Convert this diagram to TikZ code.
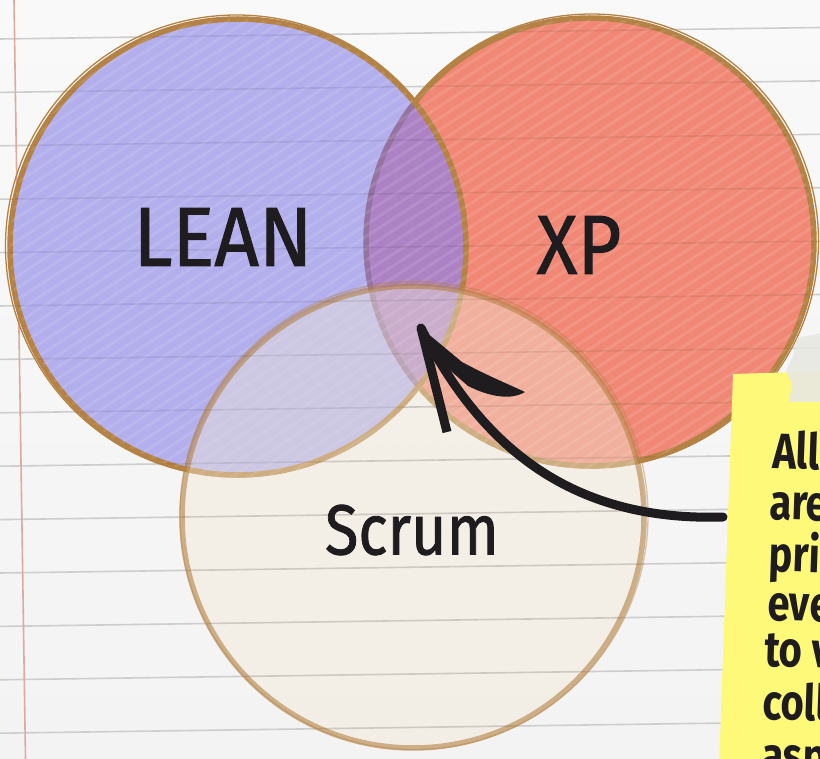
\documentclass[tikz,border=0pt]{standalone}
\usepackage{fontspec}
\setmainfont{Fira Sans}
\newfontfamily\lblfont{Fira Sans}[FakeBold=1.2]
\definecolor{paperA}{RGB}{249,249,249}
\definecolor{paperB}{RGB}{243,243,243}
\definecolor{ruleline}{RGB}{205,205,205}
\definecolor{marginline}{RGB}{222,170,160}
\definecolor{leanfill}{RGB}{178,175,236}
\definecolor{xpfill}{RGB}{241,136,117}
\definecolor{overlapLX}{RGB}{172,130,196}
\definecolor{scrumfill}{RGB}{242,233,214}
\definecolor{rimbrown}{RGB}{180,130,68}
\definecolor{rimmuted}{RGB}{148,115,160}
\definecolor{notey}{RGB}{255,249,122}
\definecolor{tapegray}{RGB}{232,232,226}
\definecolor{ink}{RGB}{30,28,30}
\begin{document}
\begin{tikzpicture}[x=1pt,y=-1pt,
  rim/.style={draw=rimbrown,line width=5.5},
  thinrim/.style={draw=rimbrown,line width=1.3},
  biglabel/.style={text=ink,inner sep=0pt},
  notetext/.style={text=ink,inner sep=0pt,anchor=base west,rotate=-2,
    font=\bfseries\fontsize{50}{50}\selectfont},
  inkline/.style={draw=ink,line width=9}]
\clip (0,0) rectangle (820,759);
% paper
\shade[top color=paperA,bottom color=paperB] (0,0) rectangle (820,759);
\foreach \k in {-1,...,14}
  \draw[ruleline,line width=1.6] (0,39+53.4*\k) -- (820,27.5+53.4*\k);
\draw[marginline,line width=1.6] (14,0) -- (25.5,759);
% circle centres
\coordinate (xpc) at (590,242);
\coordinate (leanc) at (238,247);
\coordinate (scrumc) at (413,517);
% XP
\fill[xpfill] (xpc) circle[radius=224];
\draw[rim] (xpc) circle[radius=224];
\draw[thinrim] ([shift={(1.5,-1)}]xpc) circle[radius=227];
% LEAN
\fill[leanfill] (leanc) circle[radius=228];
\begin{scope}
  \clip (leanc) circle[radius=228];
  \fill[overlapLX] (xpc) circle[radius=224];
  \draw[rimmuted,line width=5.5] (xpc) circle[radius=224];
\end{scope}
\draw[rim] (leanc) circle[radius=228];
\draw[thinrim] ([shift={(-1.5,-1)}]leanc) circle[radius=231];
% streaks
\begin{scope}
  \clip (xpc) circle[radius=224] (leanc) circle[radius=228] (scrumc) circle[radius=231];
  \foreach \s in {-1100,-1082,...,820}
    \draw[white,opacity=.10,line width=3] (\s,770) -- ++(1150,-750);
\end{scope}
% Scrum
\fill[scrumfill,fill opacity=.42] (scrumc) circle[radius=231];
\draw[rimbrown,draw opacity=.6,line width=5.5] (scrumc) circle[radius=231];
\draw[rimbrown,draw opacity=.45,line width=1.3] ([shift={(1,-1.5)}]scrumc) circle[radius=234];
% faint rules over circles
\begin{scope}
  \clip (xpc) circle[radius=224] (leanc) circle[radius=228] (scrumc) circle[radius=231];
  \foreach \k in {-1,...,14}
    \draw[black,opacity=.07,line width=1.6] (0,39+53.4*\k) -- (820,27.5+53.4*\k);
\end{scope}
% labels
\node[biglabel,font=\lblfont\fontsize{84}{84}\selectfont] (lean) at (223,237) {\scalebox{0.93}[1]{LEAN}};
\node[biglabel,font=\lblfont\fontsize{84}{84}\selectfont] (xp) at (579,245) {\scalebox{0.9}[1]{XP}};
\node[biglabel,font=\lblfont\fontsize{71}{71}\selectfont] (scrum) at (412,530) {\scalebox{0.86}[1]{Scrum}};
% arrow
\coordinate (arrowtip) at (421,328);
\coordinate (arrowtail) at (723,517);
\coordinate (barbend) at (447,432);
\draw[inkline,line cap=round] (arrowtail) .. controls (565,522) and (478,440) .. (arrowtip);
\draw[inkline,line cap=butt] (arrowtip) -- (barbend);
\fill[ink] (arrowtip) -- (462,362) .. controls (488,376) and (508,384) .. (525,392)
  .. controls (510,401) and (488,396) .. (468,386) -- (436,358) -- cycle;
% sticky note
\fill[notey] (733,374) -- (830,371) -- (830,770) -- (719,770) -- cycle;
\fill[tapegray,opacity=.9] (797,338) -- (822,333) -- (822,402) -- (789,402) -- (792,384)
  -- (786,371) -- (793,356) -- cycle;
\node[notetext] (n1) at (772,468) {\scalebox{0.8}[1]{All}};
\node[notetext] (n2) at (769,519) {\scalebox{0.8}[1]{are}};
\node[notetext] (n3) at (768,571) {\scalebox{0.8}[1]{pri}};
\node[notetext] (n4) at (767,620) {\scalebox{0.8}[1]{eve}};
\node[notetext] (n5) at (764,666) {\scalebox{0.8}[1]{to v}};
\node[notetext] (n6) at (762,719) {\scalebox{0.8}[1]{coll}};
\node[notetext] (n7) at (761,772) {\scalebox{0.8}[1]{asp}};
\end{tikzpicture}
\end{document}
